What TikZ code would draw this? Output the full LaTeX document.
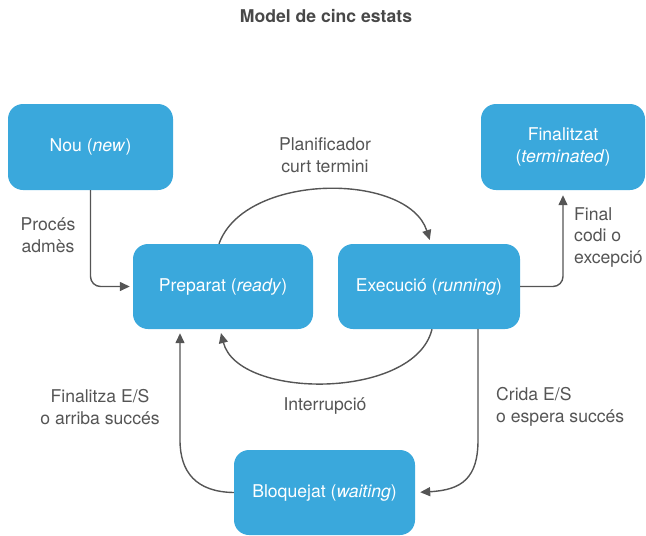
\documentclass[tikz,border=0pt]{standalone}
\usepackage{fontspec}
\setmainfont{TeX Gyre Heros}
\usetikzlibrary{arrows.meta}
\definecolor{boxblue}{HTML}{3AA8DC}
\definecolor{linegray}{HTML}{555555}
\definecolor{textgray}{HTML}{555555}
\begin{document}
\begin{tikzpicture}[x=1pt,y=-1pt,
  state/.style={rectangle, rounded corners=15pt, fill=boxblue, text=white,
    align=center, inner sep=0pt, font=\fontsize{17.6}{22}\selectfont},
  lbl/.style={text=textgray, inner sep=0pt, font=\fontsize{17.6}{21.5}\selectfont},
  arr/.style={draw=linegray, line width=1.4pt,
    -{Triangle[length=10pt,width=9pt]}}]
\useasboundingbox (0,0) rectangle (646,536);

% title
\node[text=textgray!85!black, font=\fontsize{17.6}{20}\selectfont\bfseries] (title) at (326,16) {Model de cinc estats};

% states
\node[state, minimum width=165pt, minimum height=86pt] (nou) at (90.5,147) {Nou (\textit{new})};
\node[state, minimum width=164pt, minimum height=86pt] (fin) at (563,147) {Finalitzat\\(\textit{terminated})};
\node[state, minimum width=180pt, minimum height=85pt] (prep) at (223,286.5) {Preparat (\textit{ready})};
\node[state, minimum width=182pt, minimum height=85pt] (exec) at (429,286.5) {Execució (\textit{running})};
\node[state, minimum width=181pt, minimum height=85pt] (bloq) at (324.5,492.5) {Bloquejat (\textit{waiting})};

% transitions
\draw[arr, rounded corners=10pt, shorten >=3pt] (nou.south) |- (prep.west);

\coordinate (pa) at ([xshift=-4pt]prep.north);
\coordinate (eb) at ([xshift=2pt]exec.north);
\draw[arr, shorten >=4pt] (pa) .. controls (245,172) and (408,172) .. (eb);

\coordinate (ec) at ([xshift=3pt]exec.south);
\coordinate (pd) at ([xshift=-3pt]prep.south);
\draw[arr, shorten >=4pt] (ec) .. controls (415,400) and (238,400) .. (pd);

\draw[arr, rounded corners=10pt, shorten >=5pt] (exec.east) -| (fin.south);

\coordinate (ee) at ([xshift=49pt]exec.south);
\draw[arr, shorten >=5pt] (ee) -- (478,440) .. controls (478,478) and (462,490) .. (bloq.east);

\coordinate (pf) at ([xshift=-43pt]prep.south);
\draw[arr, shorten >=4pt] (bloq.west) .. controls (196,492) and (180,472) .. (180,440) -- (pf);

% transition labels
\node[lbl, align=center] (l1) at (48,235) {Procés\\admès};
\node[lbl, align=center] (l2) at (325,155) {Planificador\\curt termini};
\node[lbl, align=left, anchor=west] (l3) at (574,237) {Final\\codi o\\excepció};
\node[lbl] (l4) at (325,406) {Interrupció};
\node[lbl, align=center] (l5) at (100,407) {Finalitza E/S\\o arriba succés};
\node[lbl, align=left, anchor=west] (l6) at (496,407) {Crida E/S\\o espera succés};
\end{tikzpicture}
\end{document}
